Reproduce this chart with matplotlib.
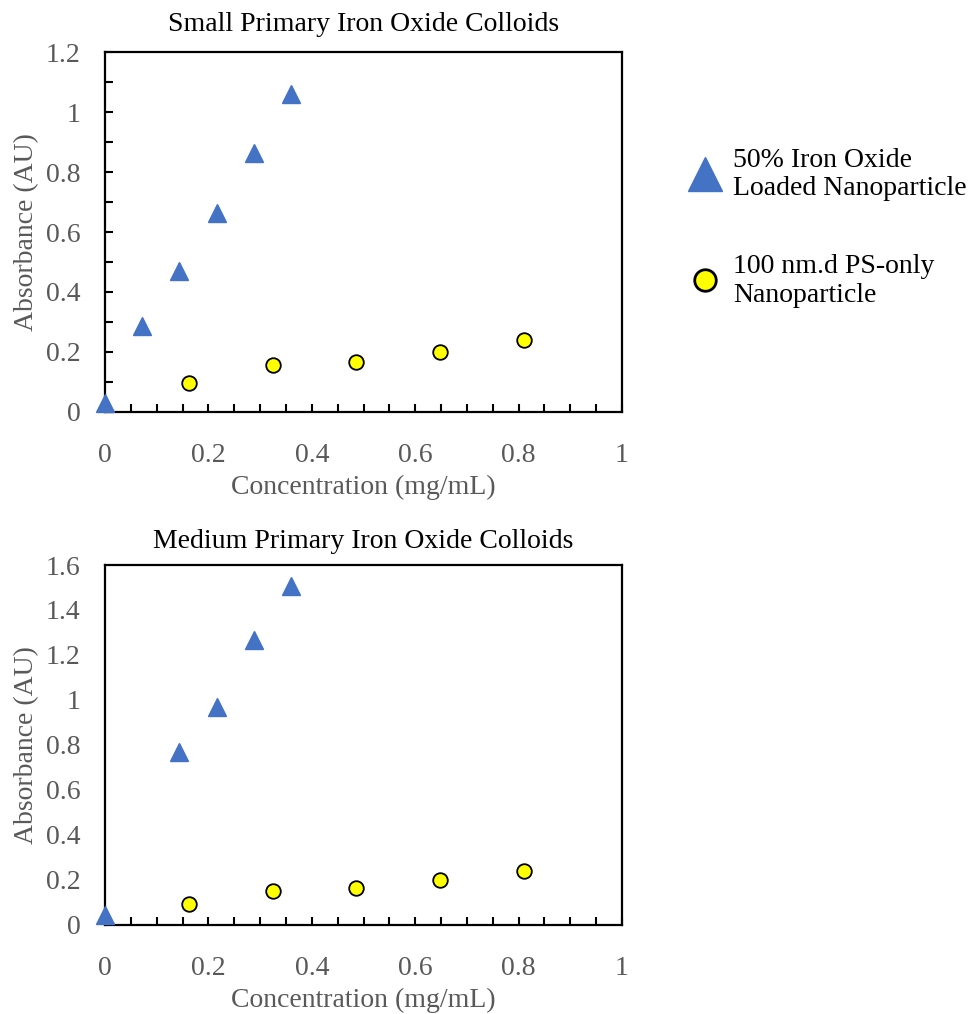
import matplotlib.pyplot as plt
from matplotlib.lines import Line2D
from matplotlib.ticker import MultipleLocator, NullLocator

# Data
conc_fe = [0, 0.072, 0.144, 0.216, 0.288, 0.36]
abs_fe_small = [0.03, 0.285, 0.47, 0.665, 0.865, 1.06]
conc_fe_med = [0, 0.144, 0.216, 0.288, 0.36]
abs_fe_med = [0.044, 0.77, 0.97, 1.265, 1.505]
conc_ps = [0.162, 0.324, 0.486, 0.648, 0.81]
abs_ps_small = [0.095, 0.155, 0.167, 0.2, 0.24]
abs_ps_med = [0.093, 0.151, 0.164, 0.2, 0.24]

titles = ["Small Primary Iron Oxide Colloids", "Medium Primary Iron Oxide Colloids"]
legend_labels = ["50% Iron Oxide\nLoaded Nanoparticle", "100 nm.d PS-only\nNanoparticle"]

plt.rcParams["font.family"] = ["Liberation Serif", "DejaVu Serif"]
gray = "#595959"
blue = "#4472C4"
fs = 20

fig = plt.figure(figsize=(9.73, 10.14), dpi=100)
ax1 = fig.add_axes([0.1079, 0.5937, 0.5314, 0.3550])
ax2 = fig.add_axes([0.1079, 0.0878, 0.5314, 0.3550])

panels = [
    (ax1, conc_fe, abs_fe_small, abs_ps_small, 1.2, 15),
    (ax2, conc_fe_med, abs_fe_med, abs_ps_med, 1.6, 12),
]

for i, (ax, xf, yf, yp, ymax, tpad) in enumerate(panels):
    ax.plot(xf, yf, linestyle="none", marker="^", markersize=13,
            color=blue, markeredgecolor=blue, clip_on=False, zorder=3)
    ax.plot(conc_ps, yp, linestyle="none", marker="o", markersize=10.5,
            markerfacecolor="#FFFF00", markeredgecolor="black",
            markeredgewidth=1.3, clip_on=False, zorder=3)
    ax.set_xlim(0, 1)
    ax.set_ylim(0, ymax)
    ax.xaxis.set_major_locator(MultipleLocator(0.2))
    ax.xaxis.set_minor_locator(MultipleLocator(0.05))
    ax.yaxis.set_major_locator(MultipleLocator(0.2))
    if i == 0:
        ax.yaxis.set_minor_locator(MultipleLocator(0.1))
        ax.tick_params(axis="y", which="both", length=6)
    else:
        ax.yaxis.set_minor_locator(NullLocator())
        ax.tick_params(axis="y", which="both", length=0)
    ax.tick_params(which="both", direction="in", colors="black",
                   labelcolor=gray, labelsize=fs, width=1.5)
    ax.tick_params(axis="x", which="both", length=6, pad=22)
    ax.tick_params(axis="y", pad=17.5)
    ax.yaxis.set_major_formatter(plt.FuncFormatter(lambda v, p: f"{v:g}"))
    ax.xaxis.set_major_formatter(plt.FuncFormatter(lambda v, p: f"{v:g}"))
    for s in ax.spines.values():
        s.set_linewidth(1.6)
    ax.set_title(titles[i], fontsize=fs, pad=tpad)
    ax.set_xlabel("Concentration (mg/mL)", fontsize=fs, color=gray, labelpad=5)
    ax.set_ylabel("Absorbance (AU)", fontsize=fs, color=gray, labelpad=5)

handles = [
    Line2D([], [], linestyle="none", marker="^", markersize=25,
           color=blue, markeredgecolor=blue),
    Line2D([], [], linestyle="none", marker="o", markersize=15.5,
           markerfacecolor="#FFFF00", markeredgecolor="black",
           markeredgewidth=2),
]
fig.legend(handles, legend_labels, loc="upper left",
           bbox_to_anchor=(0.682, 0.879), frameon=False, fontsize=fs,
           handletextpad=0.4, labelspacing=1.88, handlelength=1.2)

fig.savefig("out.png", dpi=100)
